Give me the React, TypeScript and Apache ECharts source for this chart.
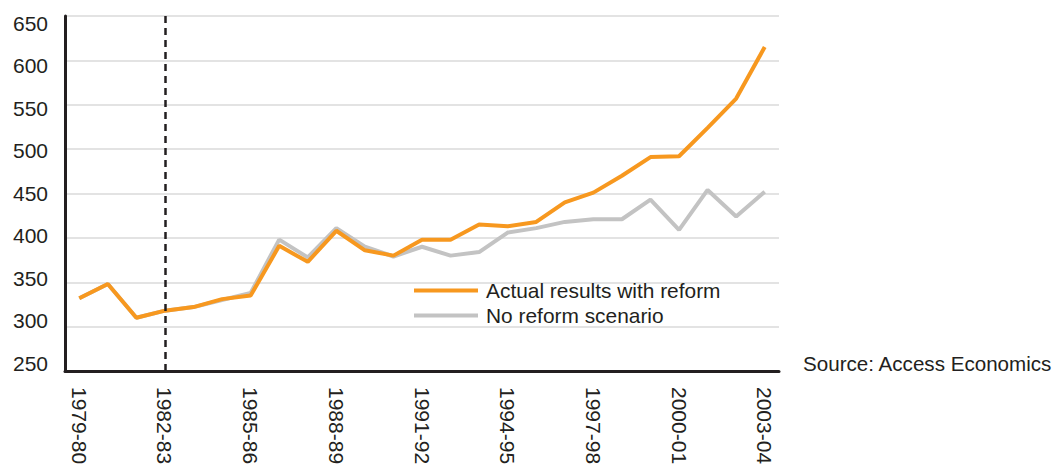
import React, { useEffect, useRef } from "react";
import * as echarts from "echarts";

const categories = [
  "1979-80", "1980-81", "1981-82", "1982-83", "1983-84", "1984-85", "1985-86",
  "1986-87", "1987-88", "1988-89", "1989-90", "1990-91", "1991-92", "1992-93",
  "1993-94", "1994-95", "1995-96", "1996-97", "1997-98", "1998-99", "1999-00",
  "2000-01", "2001-02", "2002-03", "2003-04",
];

const actualWithReform = [
  332, 348, 310, 318, 322, 331, 335, 391, 373, 408, 386, 380, 398, 398, 415,
  413, 418, 440, 451, 470, 491, 492, 524, 557, 615,
];

const noReformScenario = [
  332, 348, 310, 318, 322, 330, 338, 398, 378, 411, 390, 379, 390, 380, 384,
  406, 411, 418, 421, 421, 443, 409, 454, 424, 452,
];

const yMin = 250;
const yMax = 650;
const yStep = 50;
const reformStart = "1982-83";
const sourceText = "Source: Access Economics";

const FONT = "'Liberation Sans', Arial, Helvetica, sans-serif";
const TEXT = "#231f20";
const ORANGE = "#f7981f";
const GREY = "#c3c3c3";

export default function App() {
  const ref = useRef<HTMLDivElement>(null);

  useEffect(() => {
    if (!ref.current) return;
    const chart = echarts.init(ref.current, null, { renderer: "svg" });
    chart.setOption({
      animation: false,
      backgroundColor: "#ffffff",
      textStyle: { fontFamily: FONT },
      grid: [
        { left: 65, right: 275, top: 16, bottom: 97 },
        { left: 65, right: 275, top: 23, bottom: 105 },
      ],
      legend: {
        orient: "vertical",
        left: 409,
        top: 275,
        icon: "rect",
        itemWidth: 64,
        itemHeight: 4,
        itemGap: 4,
        data: ["Actual results with reform", "No reform scenario"],
        textStyle: {
          fontFamily: FONT,
          fontSize: 20.9,
          color: TEXT,
          lineHeight: 20,
          padding: [0, 0, 0, 3],
        },
      },
      xAxis: [
        {
          type: "category",
          gridIndex: 0,
          data: categories,
          boundaryGap: true,
          axisLine: { show: true, lineStyle: { color: TEXT, width: 3 } },
          axisTick: { show: false },
          axisLabel: {
            interval: 2,
            rotate: -90,
            margin: 16,
            fontSize: 21,
            color: TEXT,
            fontFamily: FONT,
          },
          splitLine: { show: false },
        },
        {
          type: "category",
          gridIndex: 1,
          data: categories,
          show: false,
        },
      ],
      yAxis: [
        {
          type: "value",
          gridIndex: 0,
          min: yMin,
          max: yMax,
          interval: yStep,
          axisLine: { show: true, lineStyle: { color: TEXT, width: 3 } },
          axisTick: { show: false },
          axisLabel: { show: false },
          splitLine: { show: true, lineStyle: { color: "#e3e3e3", width: 2 } },
        },
        {
          type: "value",
          gridIndex: 1,
          min: yMin,
          max: yMax,
          interval: yStep,
          axisLine: { show: false },
          axisTick: { show: false },
          splitLine: { show: false },
          axisLabel: {
            margin: 17,
            fontSize: 21,
            color: TEXT,
            fontFamily: FONT,
          },
        },
      ],
      series: [
        {
          name: "No reform scenario",
          type: "line",
          xAxisIndex: 0,
          yAxisIndex: 0,
          data: noReformScenario,
          showSymbol: false,
          symbol: "none",
          lineStyle: { color: GREY, width: 4 },
          itemStyle: { color: GREY },
          z: 2,
        },
        {
          name: "Actual results with reform",
          type: "line",
          xAxisIndex: 0,
          yAxisIndex: 0,
          data: actualWithReform,
          showSymbol: false,
          symbol: "none",
          lineStyle: { color: ORANGE, width: 4 },
          itemStyle: { color: ORANGE },
          z: 3,
          markLine: {
            silent: true,
            symbol: "none",
            label: { show: false },
            lineStyle: { color: TEXT, width: 2.5, type: [7, 5] },
            data: [{ xAxis: reformStart }],
          },
        },
      ],
      graphic: [
        {
          type: "text",
          left: 803,
          top: 353,
          style: {
            text: sourceText,
            fontSize: 20.6,
            fontFamily: FONT,
            fill: TEXT,
          },
        },
      ],
    });
    return () => chart.dispose();
  }, []);

  return (
    <div
      ref={ref}
      style={{ position: "fixed", left: 0, top: 0, width: 1054, height: 468 }}
    />
  );
}
